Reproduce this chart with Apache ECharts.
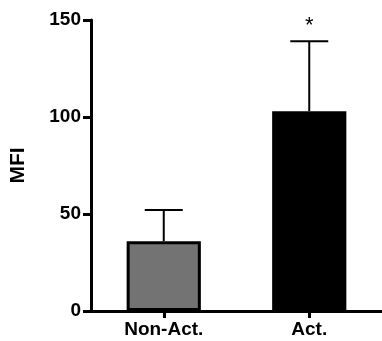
<!DOCTYPE html>
<html>
<head>
<meta charset="utf-8">
<script src="https://cdn.jsdelivr.net/npm/echarts@6/dist/echarts.min.js"></script>
<style>
  html, body { margin: 0; padding: 0; background: #fff; }
  #main { width: 382px; height: 341px; }
</style>
</head>
<body>
<div id="main"></div>
<script>
const categories = ['Non-Act.', 'Act.']
const means = [36, 103]
const errTop = [52, 139]   // mean + SD
const marks = ['', '*']
const barColors = ['#737373', '#000000']

const chart = echarts.init(document.getElementById('main'))

const font = 'Liberation Sans, Arial, sans-serif'

chart.setOption({
  animation: false,
  grid: { left: 90, right: 0, top: 20, bottom: 30 },
  xAxis: {
    type: 'category',
    data: categories,
    axisLine: { lineStyle: { color: '#000', width: 3 } },
    axisTick: { show: true, alignWithLabel: true, length: 7, lineStyle: { width: 3, color: '#000' } },
    axisLabel: { color: '#000', fontSize: 19, fontWeight: 'bold', fontFamily: font, margin: 9 }
  },
  yAxis: {
    type: 'value',
    min: 0, max: 150, interval: 50,
    name: 'MFI',
    nameLocation: 'middle',
    nameGap: 62,
    nameTextStyle: { color: '#000', fontSize: 21, fontWeight: 'bold', fontFamily: font },
    splitLine: { show: false },
    axisLine: { show: true, lineStyle: { color: '#000', width: 3 } },
    axisTick: { show: true, length: 8, lineStyle: { width: 3, color: '#000' } },
    axisLabel: { color: '#000', fontSize: 19, fontWeight: 'bold', fontFamily: font, margin: 10 }
  },
  series: [
    {
      type: 'bar',
      barWidth: '51%',
      data: means.map((v, i) => ({
        value: v,
        itemStyle: {
          color: barColors[i],
          borderColor: '#000',
          borderWidth: i === 0 ? 3 : 0
        }
      })),
      z: 2
    },
    {
      type: 'custom',
      z: 1,
      data: means.map((v, i) => [i, v, errTop[i]]),
      renderItem: function (params, api) {
        const base = api.coord([api.value(0), api.value(1)])
        const top = api.coord([api.value(0), api.value(2)])
        const half = 19
        const children = [
          { type: 'line', shape: { x1: base[0], y1: base[1], x2: top[0], y2: top[1] }, style: { stroke: '#000', lineWidth: 2 } },
          { type: 'line', shape: { x1: top[0] - half, y1: top[1], x2: top[0] + half, y2: top[1] }, style: { stroke: '#000', lineWidth: 2 } }
        ]
        const m = marks[params.dataIndex]
        if (m) {
          children.push({
            type: 'text',
            style: { text: m, x: top[0], y: top[1] - 4, align: 'center', verticalAlign: 'bottom', fill: '#000', fontSize: 22, fontFamily: font }
          })
        }
        return { type: 'group', children: children }
      }
    }
  ]
})
</script>
</body>
</html>
